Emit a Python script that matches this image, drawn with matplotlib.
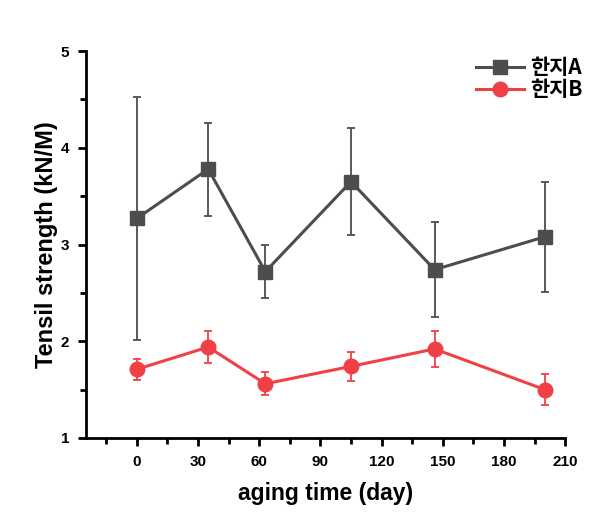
import matplotlib
matplotlib.use("Agg")
import matplotlib.pyplot as plt
from matplotlib.lines import Line2D
from matplotlib.ticker import MultipleLocator

# aging time (day)
days = [0, 35, 63, 105, 146, 200]

# Tensil strength (kN/M)
hanji_a = [3.27, 3.78, 2.72, 3.65, 2.74, 3.08]
hanji_a_err = [1.26, 0.48, 0.27, 0.55, 0.49, 0.57]
hanji_b = [1.71, 1.94, 1.56, 1.74, 1.92, 1.50]
hanji_b_err = [0.11, 0.17, 0.12, 0.15, 0.19, 0.16]

series_labels = ["한지A", "한지B"]

plt.rcParams["font.family"] = ["Liberation Sans", "DejaVu Sans"]
plt.rcParams["font.weight"] = "bold"

fig = plt.figure(figsize=(6.09, 5.27), dpi=100)
ax = fig.add_axes([0.141, 0.169, 0.787, 0.734])

gray = "#4d4d4d"
red = "#f04045"

ax.errorbar(days, hanji_a, yerr=hanji_a_err, color=gray, marker="s",
            markersize=9.5, linewidth=2.2, elinewidth=1.3, capsize=3,
            capthick=1.3, zorder=3)
ax.errorbar(days, hanji_b, yerr=hanji_b_err, color=red, marker="o",
            markersize=10.5, linewidth=2.2, elinewidth=1.3, capsize=3,
            capthick=1.3, zorder=3)

ax.set_xlim(-25, 210)
ax.set_ylim(1, 5)
ax.xaxis.set_major_locator(MultipleLocator(30))
ax.xaxis.set_minor_locator(MultipleLocator(15))
ax.yaxis.set_major_locator(MultipleLocator(1))
ax.yaxis.set_minor_locator(MultipleLocator(0.5))

for side in ["top", "right"]:
    ax.spines[side].set_visible(False)
for side in ["left", "bottom"]:
    ax.spines[side].set_linewidth(2)

ax.tick_params(which="major", direction="out", length=6, width=2,
               labelsize=11, pad=6)
ax.tick_params(which="minor", direction="out", length=4, width=2)
for lbl in ax.get_xticklabels() + ax.get_yticklabels():
    lbl.set_fontweight("bold")

ax.set_xlabel("aging time (day)", fontsize=16.5, fontweight="bold",
              labelpad=10)
ax.set_ylabel("Tensil strength (kN/M)", fontsize=17, fontweight="bold",
              labelpad=2)

# legend without error bars, like the original
handles = [
    Line2D([], [], color=gray, marker="s", markersize=9.5, linewidth=2.2),
    Line2D([], [], color=red, marker="o", markersize=10.5, linewidth=2.2),
]
fig.legend(handles, series_labels, loc="upper left",
           bbox_to_anchor=(476 / 609, 1 - 57 / 527), frameon=False,
           prop={"family": ["Noto Sans CJK KR", "DejaVu Sans"],
                 "weight": "bold", "size": 15},
           handlelength=2.3, labelspacing=0.05, handletextpad=0.3,
           borderpad=0, borderaxespad=0)

fig.savefig("out.png", dpi=100)
